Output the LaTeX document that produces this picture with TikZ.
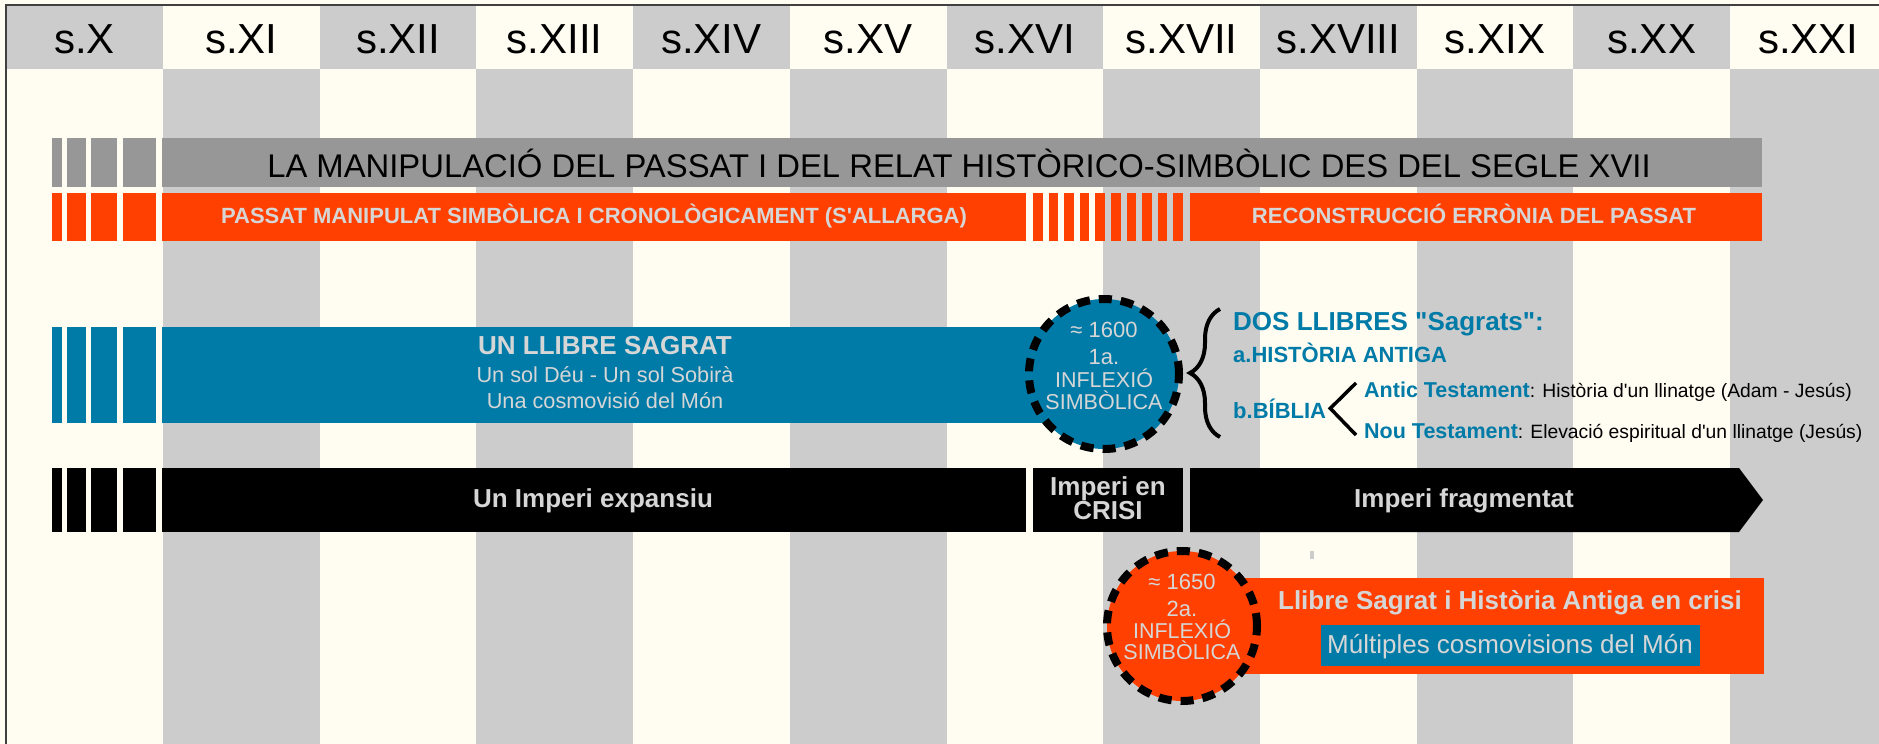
\documentclass[tikz,border=0pt]{standalone}
\usepackage{fontspec}
\setmainfont{Liberation Sans}[Ligatures=TeXOff]
\usetikzlibrary{decorations.pathreplacing}
\definecolor{crema}{HTML}{FFFDF2}
\definecolor{grisclar}{HTML}{CCCCCC}
\definecolor{grisbarra}{HTML}{979797}
\definecolor{taronja}{HTML}{FF4000}
\definecolor{blau}{HTML}{007BA7}
\definecolor{lletra}{HTML}{D6D6D6}

\begin{document}
\begin{tikzpicture}[x=1pt,y=-1pt,line join=miter,
  segle/.style={inner sep=0pt,anchor=base,font=\fontsize{42}{42}\selectfont},
  clar/.style={inner sep=0pt,anchor=base,text=lletra},
  negreta/.style={clar,font=\bfseries\fontsize{26}{26}\selectfont},
  blautxt/.style={inner sep=0pt,anchor=base west,text=blau,font=\bfseries\fontsize{22}{22}\selectfont},
  cerctxt/.style={clar,font=\fontsize{21.5}{21.5}\selectfont},
  inflexio/.style={circle,minimum size=150pt,inner sep=0pt,draw=black,line width=8pt,dash pattern=on 13pt off 9pt}]
\useasboundingbox (0,0) rectangle (1879,744);
\fill[crema] (0,0) rectangle (1879,744);
\foreach \i in {0,2,...,10} {
  \fill[grisclar] (6.3+156.7*\i,5) rectangle +(156.7,64);
  \fill[grisclar] (163+156.7*\i,69) rectangle +(156.7,675);
}
\foreach \r [count=\i from 0] in {X,XI,XII,XIII,XIV,XV,XVI,XVII,XVIII,XIX,XX,XXI}
  \node[segle] (s\r) at (84.65+156.7*\i,53) {s.\r};
\draw[line width=1.5pt,black!75] (6,744) -- (6,5) -- (1879,5);

\foreach \a/\b in {52/62,67/86,91/117,123/156} {
  \fill[grisbarra] (\a,138) rectangle (\b,187);
  \fill[taronja] (\a,193) rectangle (\b,241);
  \fill[blau] (\a,327) rectangle (\b,423);
  \fill[black] (\a,468) rectangle (\b,532);
}
\fill[grisbarra] (162,138) rectangle (1762,187);
\fill[taronja] (162,193) rectangle (1026,241);
\foreach \k in {0,...,9} \fill[taronja] (1033+15.6*\k,193) rectangle +(9.6,48);
\fill[taronja] (1190,193) rectangle (1762,241);
\fill[blau] (162,327) rectangle (1104,423);
\fill[black] (162,468) rectangle (1026,532);
\fill[black] (1033,468) rectangle (1183,532);
\fill[black] (1190,468) -- (1739,468) -- (1763,500) -- (1739,532) -- (1190,532) -- cycle;
\fill[taronja] (1180,578) rectangle (1764,674);
\fill[blau] (1321,625) rectangle (1700,666);
\fill[grisclar] (1310,551) rectangle (1314,559);

\node[clar,text=black,font=\fontsize{32.8}{32.8}\selectfont] (titol) at (959,177) {LA MANIPULACIÓ DEL PASSAT I DEL RELAT HISTÒRICO-SIMBÒLIC DES DEL SEGLE XVII};
\node[clar,font=\bfseries\fontsize{22}{22}\selectfont] (passat) at (594,223) {PASSAT MANIPULAT SIMBÒLICA I CRONOLÒGICAMENT (S'ALLARGA)};
\node[clar,font=\bfseries\fontsize{22}{22}\selectfont] (reconstr) at (1474,223) {RECONSTRUCCIÓ ERRÒNIA DEL PASSAT};

\node[negreta] (llibre) at (605,354) {UN LLIBRE SAGRAT};
\node[clar,font=\fontsize{21.7}{21.7}\selectfont] (deu) at (605,382) {Un sol Déu - Un sol Sobirà};
\node[clar,font=\fontsize{21.7}{21.7}\selectfont] (cosmo) at (605,408) {Una cosmovisió del Món};

\node[negreta] (expansiu) at (593,507) {Un Imperi expansiu};
\node[negreta] (crisi1) at (1108,495) {Imperi en};
\node[negreta] (crisi2) at (1108,519) {CRISI};
\node[negreta] (fragment) at (1464,507) {Imperi fragmentat};

\node[inflexio,fill=blau] (c1) at (1104,374) {};
\node[cerctxt,font=\fontsize{22}{22}\selectfont] (c1a) at ([yshift=37pt]c1.center) {≈ 1600};
\node[cerctxt,font=\fontsize{22}{22}\selectfont] (c1b) at ([yshift=10pt]c1.center) {1a.};
\node[cerctxt] (c1c) at ([yshift=-13pt]c1.center) {INFLEXIÓ};
\node[cerctxt] (c1d) at ([yshift=-35pt]c1.center) {SIMBÒLICA};

\node[inflexio,fill=taronja] (c2) at (1182,626) {};
\node[cerctxt,font=\fontsize{22}{22}\selectfont] (c2a) at ([yshift=37pt]c2.center) {≈ 1650};
\node[cerctxt,font=\fontsize{22}{22}\selectfont] (c2b) at ([yshift=10pt]c2.center) {2a.};
\node[cerctxt] (c2c) at ([yshift=-12.5pt]c2.center) {INFLEXIÓ};
\node[cerctxt] (c2d) at ([yshift=-33pt]c2.center) {SIMBÒLICA};

\node[negreta] (enCrisi) at (1510,609) {Llibre Sagrat i Història Antiga en crisi};
\node[clar,font=\fontsize{26}{26}\selectfont] (multiples) at (1510,653) {Múltiples cosmovisions del Món};

\node[blautxt,font=\bfseries\fontsize{26}{26}\selectfont] (dos) at (1233,330) {DOS LLIBRES "Sagrats":};
\node[blautxt] (histant) at (1233,362) {a.HISTÒRIA ANTIGA};
\node[blautxt] (biblia) at (1233,418) {b.BÍBLIA};
\node[blautxt,text=black,font=\fontsize{19.3}{19.3}\selectfont] (antic) at (1364,397) {{\color{blau}\bfseries\fontsize{21.5}{21.5}\selectfont Antic Testament}: Història d'un llinatge (Adam - Jesús)};
\node[blautxt,text=black,font=\fontsize{19.3}{19.3}\selectfont] (nou) at (1364,438) {{\color{blau}\bfseries\fontsize{21.5}{21.5}\selectfont Nou Testament}: Elevació espiritual d'un llinatge (Jesús)};

\coordinate (claubaix) at (1220,437);
\coordinate (claudalt) at (1220,309);
\draw[line width=4pt,decorate,decoration={brace,amplitude=30pt}] (claubaix) -- (claudalt);
\coordinate (angdalt) at (1356,383);
\coordinate (angbaix) at (1356,435);
\draw[line width=3.5pt] (angdalt) -- ([xshift=4pt]biblia.east) -- (angbaix);
\end{tikzpicture}
\end{document}
